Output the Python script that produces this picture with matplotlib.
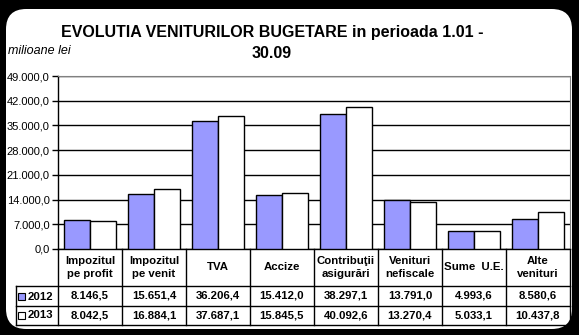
import matplotlib.pyplot as plt
from matplotlib.patches import FancyBboxPatch, Rectangle
import matplotlib.transforms as mtransforms

plt.rcParams['font.family'] = ['Liberation Sans', 'DejaVu Sans']

categories = ['Impozitul\npe profit', 'Impozitul\npe venit', 'TVA', 'Accize',
              'Contribuţii\nasigurări', 'Venituri\nnefiscale', 'Sume  U.E.',
              'Alte\nvenituri']
years = ['2012', '2013']
values_2012 = [8146.5, 15651.4, 36206.4, 15412.0, 38297.1, 13791.0, 4993.6, 8580.6]
values_2013 = [8042.5, 16884.1, 37687.1, 15845.5, 40092.6, 13270.4, 5033.1, 10437.8]
y_ticks = [0, 7000, 14000, 21000, 28000, 35000, 42000, 49000]


def ro_fmt(v):
    s = f'{v:,.1f}'
    return s.replace(',', ' ').replace('.', ',').replace(' ', '.')


W, H = 579, 335
fig = plt.figure(figsize=(W / 100, H / 100), dpi=100)
fig.patch.set_facecolor('black')

# white rounded panel behind everything
panel = FancyBboxPatch((6 / W, 6 / H), 566 / W, 320 / H,
                       boxstyle='round,pad=0,rounding_size=0.035',
                       transform=fig.transFigure, facecolor='white',
                       edgecolor='none', mutation_aspect=W / H, zorder=-10)
fig.patches.append(panel)

ax = fig.add_axes([58 / W, (H - 249) / H, 512 / W, 173 / H])
ax.set_facecolor('white')

x = list(range(len(categories)))
bw = 0.4
ax.bar([i - bw / 2 for i in x], values_2012, width=bw, color='#9999FF',
       edgecolor='black', linewidth=1, zorder=3)
ax.bar([i + bw / 2 for i in x], values_2013, width=bw, color='white',
       edgecolor='black', linewidth=1, zorder=3)

ax.set_xlim(-0.5, len(categories) - 0.5)
ax.set_ylim(0, 49000)
ax.set_yticks(y_ticks)
ax.set_yticklabels([ro_fmt(v) for v in y_ticks], fontsize=8)
ax.tick_params(axis='y', length=4, width=1, pad=2, color='black')
ax.set_xticks([])
ax.yaxis.grid(True, color='black', linewidth=1, zorder=0)
ax.set_axisbelow(True)
for s in ['top', 'right']:
    ax.spines[s].set_color('#808080')
ax.spines['left'].set_linewidth(1)
ax.spines['bottom'].set_linewidth(1)

# data table under the axis
tr = mtransforms.blended_transform_factory(ax.transData, ax.transAxes)


def yf(p):
    return (249 - p) / 173


x_left = -0.5 - 42 / 64
x_right = len(categories) - 0.5
rows = [yf(249), yf(286), yf(306), yf(325)]
lk = dict(color='black', linewidth=1, transform=tr, clip_on=False)
for yy in rows[1:]:
    ax.plot([x_left, x_right], [yy, yy], **lk)
for i in range(len(categories) + 1):
    ax.plot([i - 0.5, i - 0.5], [rows[0], rows[3]], **lk)
ax.plot([x_left, x_left], [rows[1], rows[3]], **lk)

tk = dict(transform=tr, ha='center', va='center', fontsize=8.2,
          fontweight='bold', clip_on=False)
hy = (rows[0] + rows[1]) / 2
for i, c in enumerate(categories):
    ax.text(i, hy, c, linespacing=1.3, **tk)
for r, vals in enumerate([values_2012, values_2013]):
    cy = (rows[r + 1] + rows[r + 2]) / 2
    for i, v in enumerate(vals):
        ax.text(i, cy, ro_fmt(v), **tk)

# row labels with legend keys
for r, (yr, col) in enumerate(zip(years, ['#9999FF', 'white'])):
    cy_px = [296.5, 315.5][r]
    fig.patches.append(Rectangle((18 / W, (H - cy_px - 3.5) / H), 7 / W, 7 / H,
                                 transform=fig.transFigure, facecolor=col,
                                 edgecolor='black', linewidth=0.8))
    fig.text(28 / W, (H - cy_px) / H, yr, ha='left', va='center',
             fontsize=8.2, fontweight='bold')

fig.text(272 / W, (H - 33) / H, 'EVOLUTIA VENITURILOR BUGETARE in perioada 1.01 -',
         ha='center', va='center', fontsize=11.5, fontweight='bold')
fig.text(272 / W, (H - 54) / H, '30.09', ha='center', va='center',
         fontsize=11.5, fontweight='bold')
fig.text(8 / W, (H - 51) / H, 'milioane lei', ha='left', va='center',
         fontsize=9, style='italic')

fig.savefig('out.png', dpi=100, facecolor=fig.get_facecolor())
